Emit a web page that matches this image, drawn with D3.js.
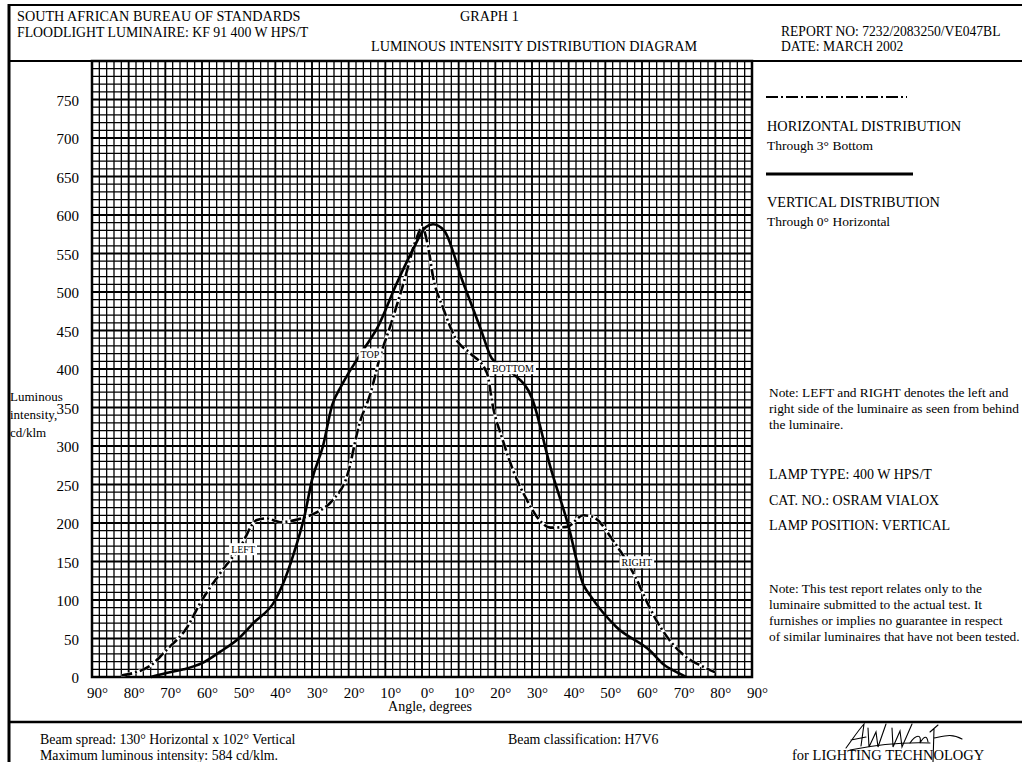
<!DOCTYPE html>
<html>
<head>
<meta charset="utf-8">
<script src="https://cdn.jsdelivr.net/npm/d3@7"></script>
<style>
  html, body { margin: 0; padding: 0; background: #fff; }
  svg { display: block; }
  text { font-family: "Liberation Serif", "Times New Roman", serif; fill: #000; }
</style>
</head>
<body>
<svg id="chart" width="1022" height="762"></svg>
<script>
// ---- data (angle in degrees; negative = left of 0°, value in cd/klm) ----
const verticalAngles = [-74, -70, -65, -60, -55, -50, -46, -40, -38, -35, -32, -30, -27, -24.5, -22, -20, -18, -16, -12, -7, -2.5, 1, 3, 6, 11, 16, 19, 22, 25, 30, 35, 40, 44, 46, 53, 62, 66, 70, 72];
const verticalValues = [0, 5, 10, 18, 33, 50, 70, 100, 120, 160, 210, 256, 300, 353, 378, 395, 410, 425, 455, 510, 555, 584, 588, 580, 515, 452, 414, 403, 393, 362, 273, 195, 120, 105, 65, 35, 16, 5, 0];

const horizontalAngles = [-82, -74, -71.5, -69.7, -64, -60.5, -55, -49.6, -45, -42.3, -38.7, -33, -28.6, -24.3, -20.5, -17, -14, -11.5, -8.7, -5, -1.4, 0, 1.7, 3, 5.7, 9.5, 13, 17.7, 19.4, 22, 24.8, 28.6, 32, 35, 39.5, 44, 46.6, 52, 58.6, 62, 65, 68, 72, 76, 80];
const horizontalValues = [2, 15, 26, 35, 65, 96, 135, 169, 204, 206, 201, 206, 214, 230, 260, 330, 369, 415, 455, 512, 571, 584, 558, 520, 480, 437, 421, 395, 350, 308, 269, 230, 204, 194, 195, 210, 208, 178, 126, 91, 65, 45, 26, 15, 6];

const xTickValues = [-90, -80, -70, -60, -50, -40, -30, -20, -10, 0, 10, 20, 30, 40, 50, 60, 70, 80, 90];
const yTickValues = [0, 50, 100, 150, 200, 250, 300, 350, 400, 450, 500, 550, 600, 650, 700, 750];

const curveLabels = ["LEFT", "TOP", "BOTTOM", "RIGHT"];
const curveLabelAngles = [-48.8, -14.2, 24.8, 58.6];
const curveLabelValues = [166, 419, 401, 149];

// ---- layout ----
const svg = d3.select("#chart");
const x = d3.scaleLinear().domain([-90, 90]).range([92, 752]);
const y = d3.scaleLinear().domain([0, 800]).range([677, 61]);

// ---- frame ----
const frame = svg.append("g").attr("stroke", "#000").attr("fill", "none");
frame.append("line").attr("x1", 8).attr("x2", 1022).attr("y1", 5).attr("y2", 5).attr("stroke-width", 2);
frame.append("line").attr("x1", 9).attr("x2", 9).attr("y1", 4).attr("y2", 762).attr("stroke-width", 3);
frame.append("line").attr("x1", 8).attr("x2", 1022).attr("y1", 61).attr("y2", 61).attr("stroke-width", 2);
frame.append("line").attr("x1", 8).attr("x2", 1022).attr("y1", 722).attr("y2", 722).attr("stroke-width", 2.5);

// ---- grid ----
const grid = svg.append("g").attr("stroke", "#000");
d3.range(-90, 90.001, 2).forEach(a => {
  const major = Math.round(a) % 10 === 0;
  grid.append("line")
    .attr("x1", x(a)).attr("x2", x(a)).attr("y1", y(0)).attr("y2", y(800))
    .attr("stroke-width", major ? 1.9 : 1.3);
});
d3.range(0, 800.001, 10).forEach(v => {
  const major = Math.round(v) % 50 === 0;
  grid.append("line")
    .attr("x1", x(-90)).attr("x2", x(90)).attr("y1", y(v)).attr("y2", y(v))
    .attr("stroke-width", major ? 1.9 : 1.3);
});
grid.append("rect").attr("x", x(-90)).attr("y", y(800)).attr("width", x(90) - x(-90)).attr("height", y(0) - y(800))
  .attr("fill", "none").attr("stroke-width", 2.5);

// ---- axes (labels only) ----
const xAxis = d3.axisBottom(x).tickValues(xTickValues).tickSize(0).tickFormat(d => Math.abs(d) + "°");
const gx = svg.append("g").attr("transform", `translate(5,${y(0) + 7})`).call(xAxis);
gx.select(".domain").remove();
gx.selectAll("text").attr("font-size", 15).style("font-family", "Liberation Serif");

const yAxis = d3.axisLeft(y).tickValues(yTickValues).tickSize(0).tickFormat(d3.format("d"));
const gy = svg.append("g").attr("transform", `translate(${x(-90) - 10},1)`).call(yAxis);
gy.select(".domain").remove();
gy.selectAll("text").attr("font-size", 15).style("font-family", "Liberation Serif");

svg.append("text").attr("x", 430).attr("y", 711).attr("text-anchor", "middle").attr("font-size", 14).text("Angle, degrees");
svg.append("text").attr("x", 10).attr("y", 401).attr("font-size", 13).text("Luminous");
svg.append("text").attr("x", 10).attr("y", 419).attr("font-size", 13).text("intensity,");
svg.append("text").attr("x", 10).attr("y", 437).attr("font-size", 13).text("cd/klm");

// ---- curves ----
const line = d3.line().x(d => x(d[0])).y(d => y(d[1])).curve(d3.curveMonotoneX);
const vData = verticalAngles.map((a, i) => [a, verticalValues[i]]);
const hData = horizontalAngles.map((a, i) => [a, horizontalValues[i]]);

svg.append("path").attr("d", line(hData)).attr("fill", "none").attr("stroke", "#fff").attr("stroke-width", 3.2);
svg.append("path").attr("d", line(hData)).attr("fill", "none").attr("stroke", "#000").attr("stroke-width", 2.6)
  .attr("stroke-dasharray", "11,3,2,3");
svg.append("path").attr("d", line(vData)).attr("fill", "none").attr("stroke", "#000").attr("stroke-width", 2.6)
  .attr("stroke-linejoin", "round");

// ---- curve labels ----
curveLabels.forEach((t, i) => {
  const g = svg.append("g").attr("transform", `translate(${x(curveLabelAngles[i])},${y(curveLabelValues[i])})`);
  const txt = g.append("text").attr("text-anchor", "middle").attr("dy", "0.35em").attr("font-size", 10).text(t);
  const w = txt.node().getComputedTextLength();
  g.insert("rect", "text").attr("x", -w / 2 - 2).attr("y", -6).attr("width", w + 4).attr("height", 12).attr("fill", "#fff");
});

// ---- header ----
const hdr = [
  ["SOUTH AFRICAN BUREAU OF STANDARDS", 17, 21, 14.2],
  ["FLOODLIGHT LUMINAIRE: KF 91 400 W HPS/T", 17, 37, 13.8],
  ["GRAPH 1", 460, 21, 14.2],
  ["LUMINOUS INTENSITY DISTRIBUTION DIAGRAM", 371, 51, 14.2],
  ["REPORT NO: 7232/2083250/VE047BL", 781, 36, 13.6],
  ["DATE: MARCH 2002", 781, 51, 13.6]
];
hdr.forEach(h => svg.append("text").attr("x", h[1]).attr("y", h[2]).attr("font-size", h[3]).text(h[0]));

// ---- legend ----
svg.append("line").attr("x1", 766).attr("x2", 907).attr("y1", 97).attr("y2", 97).attr("stroke", "#000").attr("stroke-width", 2)
  .attr("stroke-dasharray", "12,3,2,3");
svg.append("text").attr("x", 767).attr("y", 131).attr("font-size", 14.3).text("HORIZONTAL DISTRIBUTION");
svg.append("text").attr("x", 767).attr("y", 150).attr("font-size", 13.5).text("Through 3° Bottom");
svg.append("line").attr("x1", 766).attr("x2", 913).attr("y1", 174).attr("y2", 174).attr("stroke", "#000").attr("stroke-width", 2.8);
svg.append("text").attr("x", 767).attr("y", 207).attr("font-size", 14.3).text("VERTICAL DISTRIBUTION");
svg.append("text").attr("x", 767).attr("y", 226).attr("font-size", 13.5).text("Through 0° Horizontal");

// ---- notes ----
const notes = [
  ["Note: LEFT and RIGHT denotes the left and", 397, 13.4],
  ["right side of the luminaire as seen from behind", 413, 13.4],
  ["the luminaire.", 429, 13.4],
  ["LAMP TYPE: 400 W HPS/T", 479, 14],
  ["CAT. NO.: OSRAM VIALOX", 505, 14],
  ["LAMP POSITION: VERTICAL", 530, 14],
  ["Note: This test report relates only to the", 593, 13.4],
  ["luminaire submitted to the actual test. It", 609, 13.4],
  ["furnishes or implies no guarantee in respect", 625, 13.4],
  ["of similar luminaires that have not been tested.", 641, 13.4]
];
notes.forEach(n => svg.append("text").attr("x", 769).attr("y", n[1]).attr("font-size", n[2]).text(n[0]));

// ---- footer ----
svg.append("text").attr("x", 40).attr("y", 744).attr("font-size", 13.9).text("Beam spread: 130° Horizontal x 102° Vertical");
svg.append("text").attr("x", 40).attr("y", 760).attr("font-size", 13.9).text("Maximum luminous intensity: 584 cd/klm.");
svg.append("text").attr("x", 508).attr("y", 744).attr("font-size", 13.9).text("Beam classification: H7V6");
svg.append("text").attr("x", 792).attr("y", 760).attr("font-size", 14.5).text("for LIGHTING TECHNOLOGY");

// signature (hand-drawn strokes)
const sig = svg.append("g").attr("fill", "none").attr("stroke", "#000").attr("stroke-width", 1.1).attr("stroke-linecap", "round");
sig.append("path").attr("d", "M846,748 C852,740 857,732 864,724 L861,746 M851,740 L866,737");
sig.append("path").attr("d", "M868,728 L869,747 L876,732 L878,747 L886,724");
sig.append("path").attr("d", "M892,728 L893,747 L900,731 L902,747 L912,724");
sig.append("path").attr("d", "M910,743 C916,734 922,734 920,743 C924,736 927,735 928,742");
sig.append("path").attr("d", "M930,732 L938,725 M934,729 L933,762 M934,738 C944,736 952,733 962,739");
sig.append("path").attr("d", "M850,750 C880,744 905,742 930,743");
</script>
</body>
</html>
